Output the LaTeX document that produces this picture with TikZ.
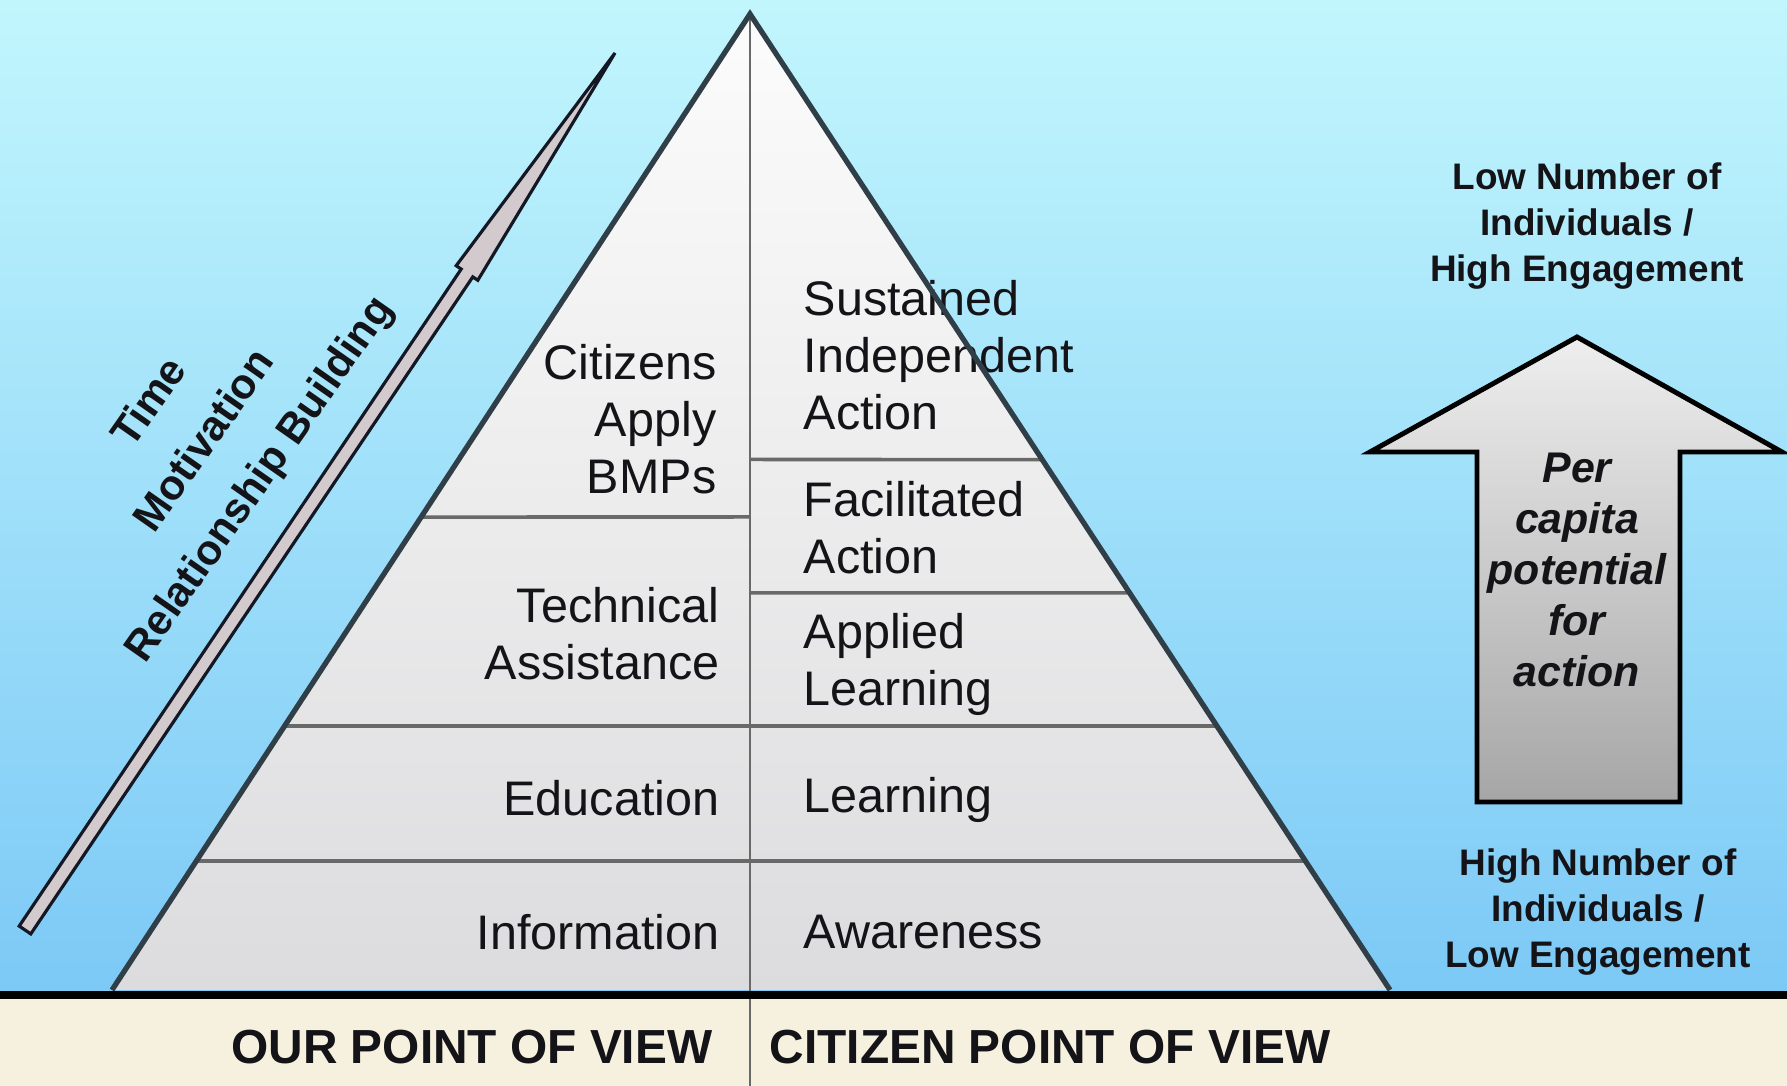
\documentclass[tikz,border=0pt]{standalone}
\usepackage{fontspec}
\setmainfont{Liberation Sans}
\usetikzlibrary{calc}
\definecolor{bgtop}{RGB}{194,246,253}
\definecolor{bgbot}{RGB}{124,201,246}
\definecolor{beige}{RGB}{246,241,222}
\definecolor{pyredge}{RGB}{48,62,72}
\definecolor{divline}{RGB}{105,105,105}
\definecolor{pyrtop}{RGB}{252,252,252}
\definecolor{pyrbot}{RGB}{220,220,222}
\definecolor{txt}{RGB}{20,20,24}
\definecolor{arrdark}{RGB}{20,24,36}
\definecolor{arrlight}{RGB}{210,202,205}
\definecolor{bigtop}{RGB}{238,238,238}
\definecolor{bigbot}{RGB}{166,166,166}
\tikzset{
  lbl/.style={font=\fontsize{13.8}{16.2}\selectfont, text=txt, inner sep=0pt},
  lblL/.style={lbl, align=right, anchor=east},
  lblR/.style={lbl, align=left, anchor=west},
  side/.style={font=\bfseries\fontsize{10.5}{13}\selectfont, align=center, text=txt, inner sep=0pt},
  rot/.style={font=\bfseries\fontsize{12}{19}\selectfont, align=center, text=txt, inner sep=0pt, rotate=55},
  pov/.style={font=\bfseries\fontsize{13.6}{16}\selectfont, text=txt, inner sep=0pt},
  percap/.style={font=\bfseries\itshape\fontsize{12.2}{14.5}\selectfont, align=center, text=txt, inner sep=0pt},
  divider/.style={draw=divline, line width=1pt},
}
\begin{document}
\begin{tikzpicture}[x=0.01cm, y=-0.01cm]
\useasboundingbox (0,0) rectangle (1787,1086);
% background
\shade[top color=bgtop, bottom color=bgbot] (0,0) rectangle (1787,995);
\fill[beige] (0,995) rectangle (1787,1086);

% pyramid
\coordinate (A) at (750,14);
\coordinate (BL) at (112,990);
\coordinate (BR) at (1390,990);
\shade[top color=pyrtop, bottom color=pyrbot] (A) -- (BR) -- (BL) -- cycle;

% dividers
\draw[divider] ($(BL)!0.4846!(A)$) -- (750,517);
\draw[divider] (750,459.5) -- ($(BR)!0.5435!(A)$);
\draw[divider] (750,593) -- ($(BR)!0.4068!(A)$);
\draw[divider] ($(BL)!0.2705!(A)$) -- ($(BR)!0.2705!(A)$);
\draw[divider] ($(BL)!0.1322!(A)$) -- ($(BR)!0.1322!(A)$);
\draw[draw=divline, line width=0.7pt] (A) -- (750,1086);

% left labels
\node[lblL] (cab) at (717,419) {Citizens\\Apply\\BMPs};
\node[lblL] (ta) at (720,634) {Technical\\Assistance};
\node[lblL] (edu) at (720,798) {Education};
\node[lblL] (inf) at (720,932) {Information};
% right labels
\node[lblR] (sia) at (803,355) {Sustained\\Independent\\Action};
\node[lblR] (fa) at (803,528) {Facilitated\\Action};
\node[lblR] (al) at (803,664) {Applied\\Learning};
\node[lblR] (lrn) at (803,800) {Learning};
\node[lblR] (awa) at (803,932) {Awareness};

% pyramid outline
\draw[pyredge, line width=1.5pt, line join=miter] (BL) -- (A) -- (BR);

% ground line
\draw[black, line width=2.4pt] (0,995) -- (1787,995);

% bottom captions
\node[pov, anchor=east] (our) at (713,1047) {OUR POINT OF VIEW};
\node[pov, anchor=west] (cit) at (769,1047) {CITIZEN POINT OF VIEW};

% diagonal arrow
\coordinate (dB1) at (19.2,926.1);
\coordinate (dB2) at (30.8,933.9);
\coordinate (dH1) at (461.2,269.1);
\coordinate (dH2) at (472.8,276.9);
\coordinate (dW1) at (456.2,265.7);
\coordinate (dW2) at (477.8,280.3);
\coordinate (dT) at (615,53);
\draw[arrdark, fill=arrlight, line width=0.9pt, line join=miter]
  (dB1) -- (dH1) -- (dW1) -- (dT) -- (dW2) -- (dH2) -- (dB2) -- cycle;

% rotated labels
\node[rot] (tmr) at (206,442) {Time\\Motivation\\Relationship Building};

% big arrow
\coordinate (bT) at (1577,337);
\shade[top color=bigtop, bottom color=bigbot]
  (bT) -- (1782,452) -- (1680,452) -- (1680,802) -- (1477,802) -- (1477,452) -- (1370,452) -- cycle;
\draw[black, line width=1.4pt, line join=miter]
  (bT) -- (1782,452) -- (1680,452) -- (1680,802) -- (1477,802) -- (1477,452) -- (1370,452) -- cycle;
\node[percap] (pc) at (1577,570) {Per\\capita\\potential\\for\\action};

% side labels
\node[side] (low) at (1587,226) {Low Number of\\Individuals /\\High Engagement};
\node[side] (high) at (1598,912) {High Number of\\Individuals /\\Low Engagement};
\end{tikzpicture}
\end{document}
